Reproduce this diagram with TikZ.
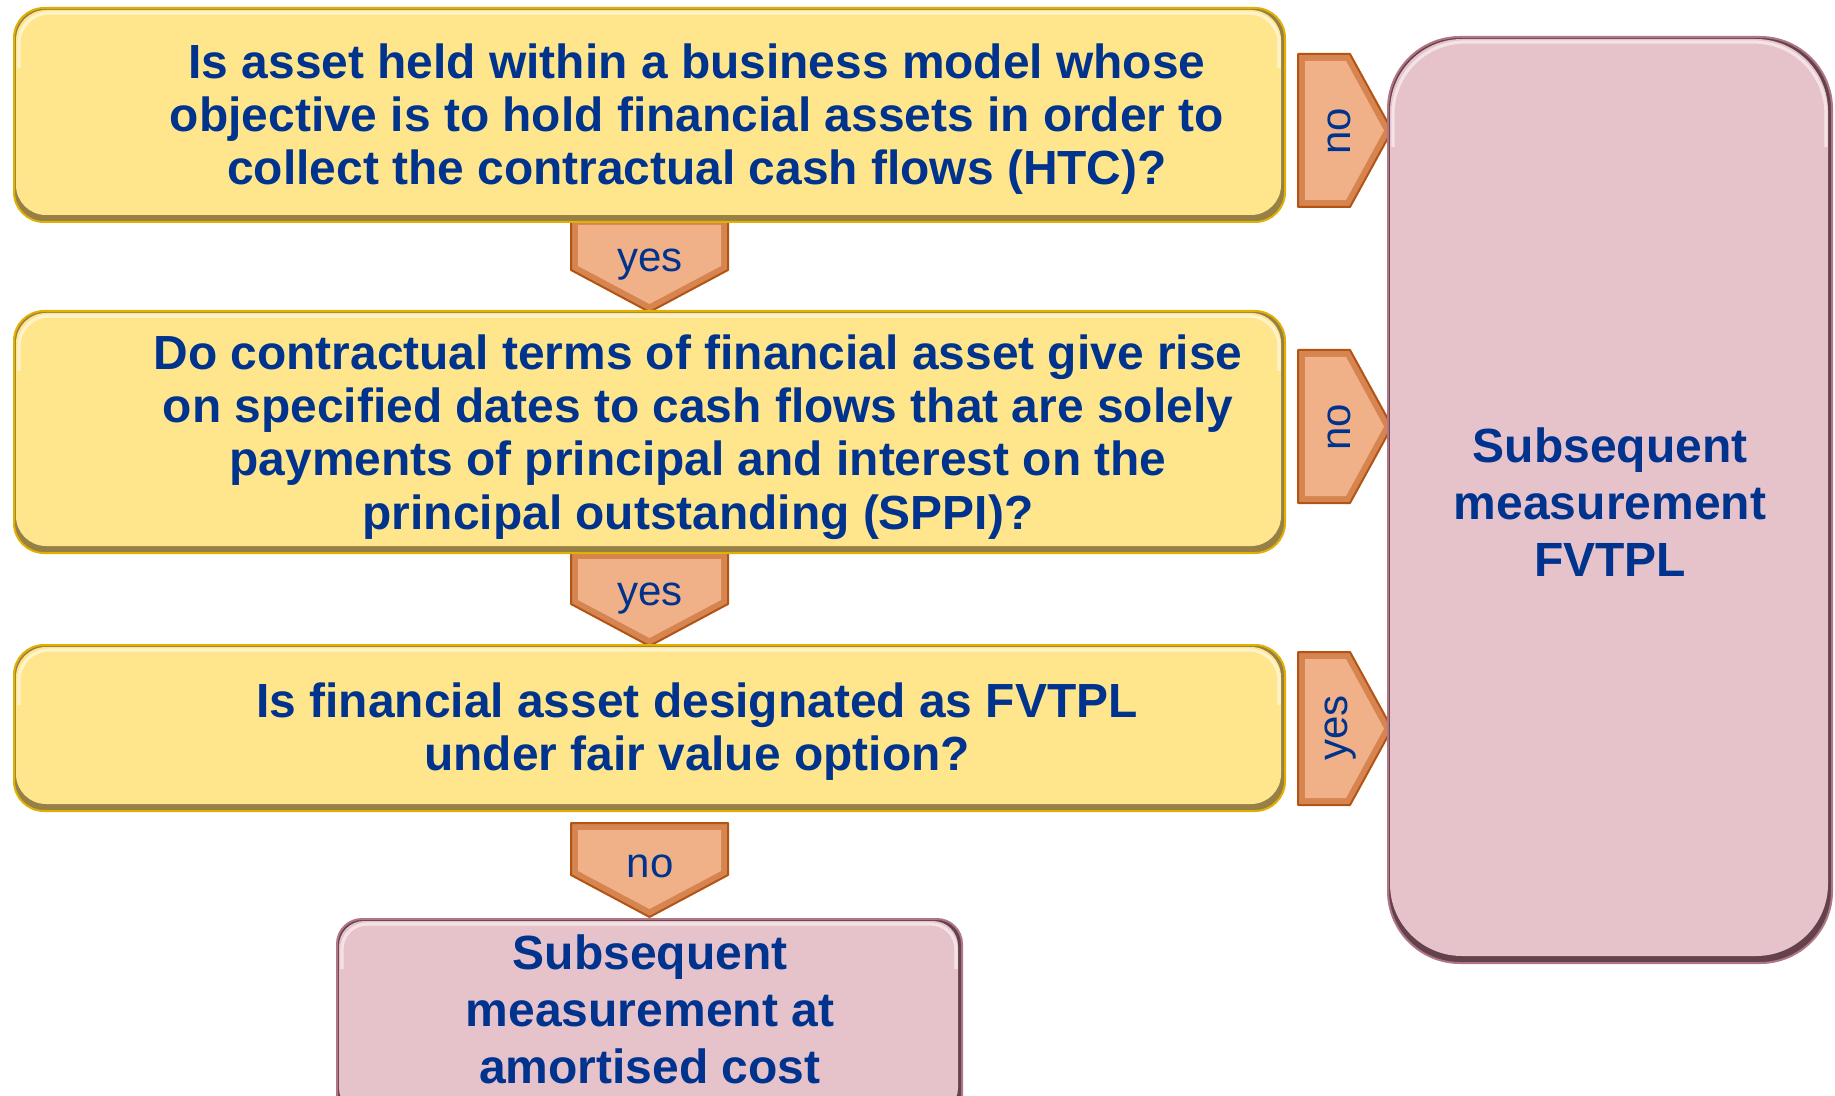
\documentclass[tikz,border=0pt]{standalone}
\usepackage{fontspec}
\setmainfont{Liberation Sans}
\definecolor{yfill}{RGB}{255,230,140}
\definecolor{yshade}{RGB}{150,128,70}
\definecolor{yrim}{RGB}{226,176,0}
\definecolor{pfill}{RGB}{230,195,202}
\definecolor{pshade}{RGB}{100,66,76}
\definecolor{prim}{RGB}{176,118,134}
\definecolor{cfill}{RGB}{240,176,136}
\definecolor{cbevel}{RGB}{214,132,80}
\definecolor{crim}{RGB}{180,84,20}
\definecolor{tblue}{RGB}{0,51,141}
\newcommand\bevelbox[9]{%
  \fill[#2, rounded corners=#4] (#5,#6) rectangle (#7,#8);
  \fill[#1, rounded corners=#4] (#5+2,#6+2) rectangle (#7-4,#8-7);
  \draw[white, opacity=.55, line width=1.6pt, rounded corners=#4]
    (#5+5,#6+#9) |- (#7-6,#6+5) -- (#7-6,#6+#9);
  \draw[#3, line width=1pt, rounded corners=#4] (#5,#6) rectangle (#7,#8);
}
\tikzset{
  qtext/.style={font=\fontsize{23.95}{26.6}\selectfont\bfseries, text=tblue, align=center, inner sep=0pt},
  ptext/.style={font=\fontsize{24}{28.5}\selectfont\bfseries, text=tblue, align=center, inner sep=0pt},
  lbl/.style={font=\fontsize{21}{23}\selectfont, text=tblue, inner sep=0pt},
  dchev/.pic={
    \fill[cbevel] (0,0) -- (157,0) -- (157,52) -- (78.5,94) -- (0,52) -- cycle;
    \fill[cfill] (7,7) -- (150,7) -- (150,48) -- (78.5,86) -- (7,48) -- cycle;
    \draw[crim, line width=1pt, line join=round] (0,0) -- (157,0) -- (157,52) -- (78.5,94) -- (0,52) -- cycle;
  },
  rchev/.pic={
    \fill[cbevel] (0,0) -- (52,0) -- (94,76.5) -- (52,153) -- (0,153) -- cycle;
    \fill[cfill] (7,7) -- (48,7) -- (86,76.5) -- (48,146) -- (7,146) -- cycle;
    \draw[crim, line width=1pt, line join=round] (0,0) -- (52,0) -- (94,76.5) -- (52,153) -- (0,153) -- cycle;
  }
}
\begin{document}
\begin{tikzpicture}[x=0.5pt,y=-0.5pt]
\useasboundingbox (0,0) rectangle (1835,1096);
\fill[white] (0,0) rectangle (1835,1096);

% chevrons (drawn below the boxes)
\pic at (571,218) {dchev};
\pic at (571,552) {dchev};
\pic at (571,823) {dchev};
\pic at (1298,54) {rchev};
\pic at (1298,350) {rchev};
\pic at (1298,652) {rchev};

% boxes
\bevelbox{yfill}{yshade}{yrim}{15pt}{14}{8}{1285}{222}{60}
\bevelbox{yfill}{yshade}{yrim}{15pt}{14}{311}{1285}{553}{60}
\bevelbox{yfill}{yshade}{yrim}{15pt}{14}{645}{1285}{811}{60}
\bevelbox{pfill}{pshade}{prim}{36pt}{1388}{37}{1832}{963}{110}
\bevelbox{pfill}{pshade}{prim}{12.5pt}{337}{919}{962}{1120}{50}

% texts
\node[qtext] (q1) at (697,119) {Is asset held within a business model whose\\objective is to hold financial assets in order to\\collect the contractual cash flows (HTC)?};
\node[qtext] (q2) at (698,437) {Do contractual terms of financial asset give rise\\on specified dates to cash flows that are solely\\payments of principal and interest on the\\principal outstanding (SPPI)?};
\node[qtext] (q3) at (697,732) {Is financial asset designated as FVTPL\\under fair value option?};
\node[ptext] (fv) at (1610,502) {Subsequent\\measurement\\FVTPL};
\node[ptext] (ac) at (650,1009) {Subsequent\\measurement at\\amortised cost};

% chevron labels
\node[lbl] (y1) at (650,265) {yes};
\node[lbl] (y2) at (650,599) {yes};
\node[lbl] (n3) at (650,866) {no};
\node[lbl, rotate=90] (n1) at (1339,131) {no};
\node[lbl, rotate=90] (n2) at (1339,427) {no};
\node[lbl, rotate=90] (y3) at (1341,728) {yes};
\end{tikzpicture}
\end{document}
